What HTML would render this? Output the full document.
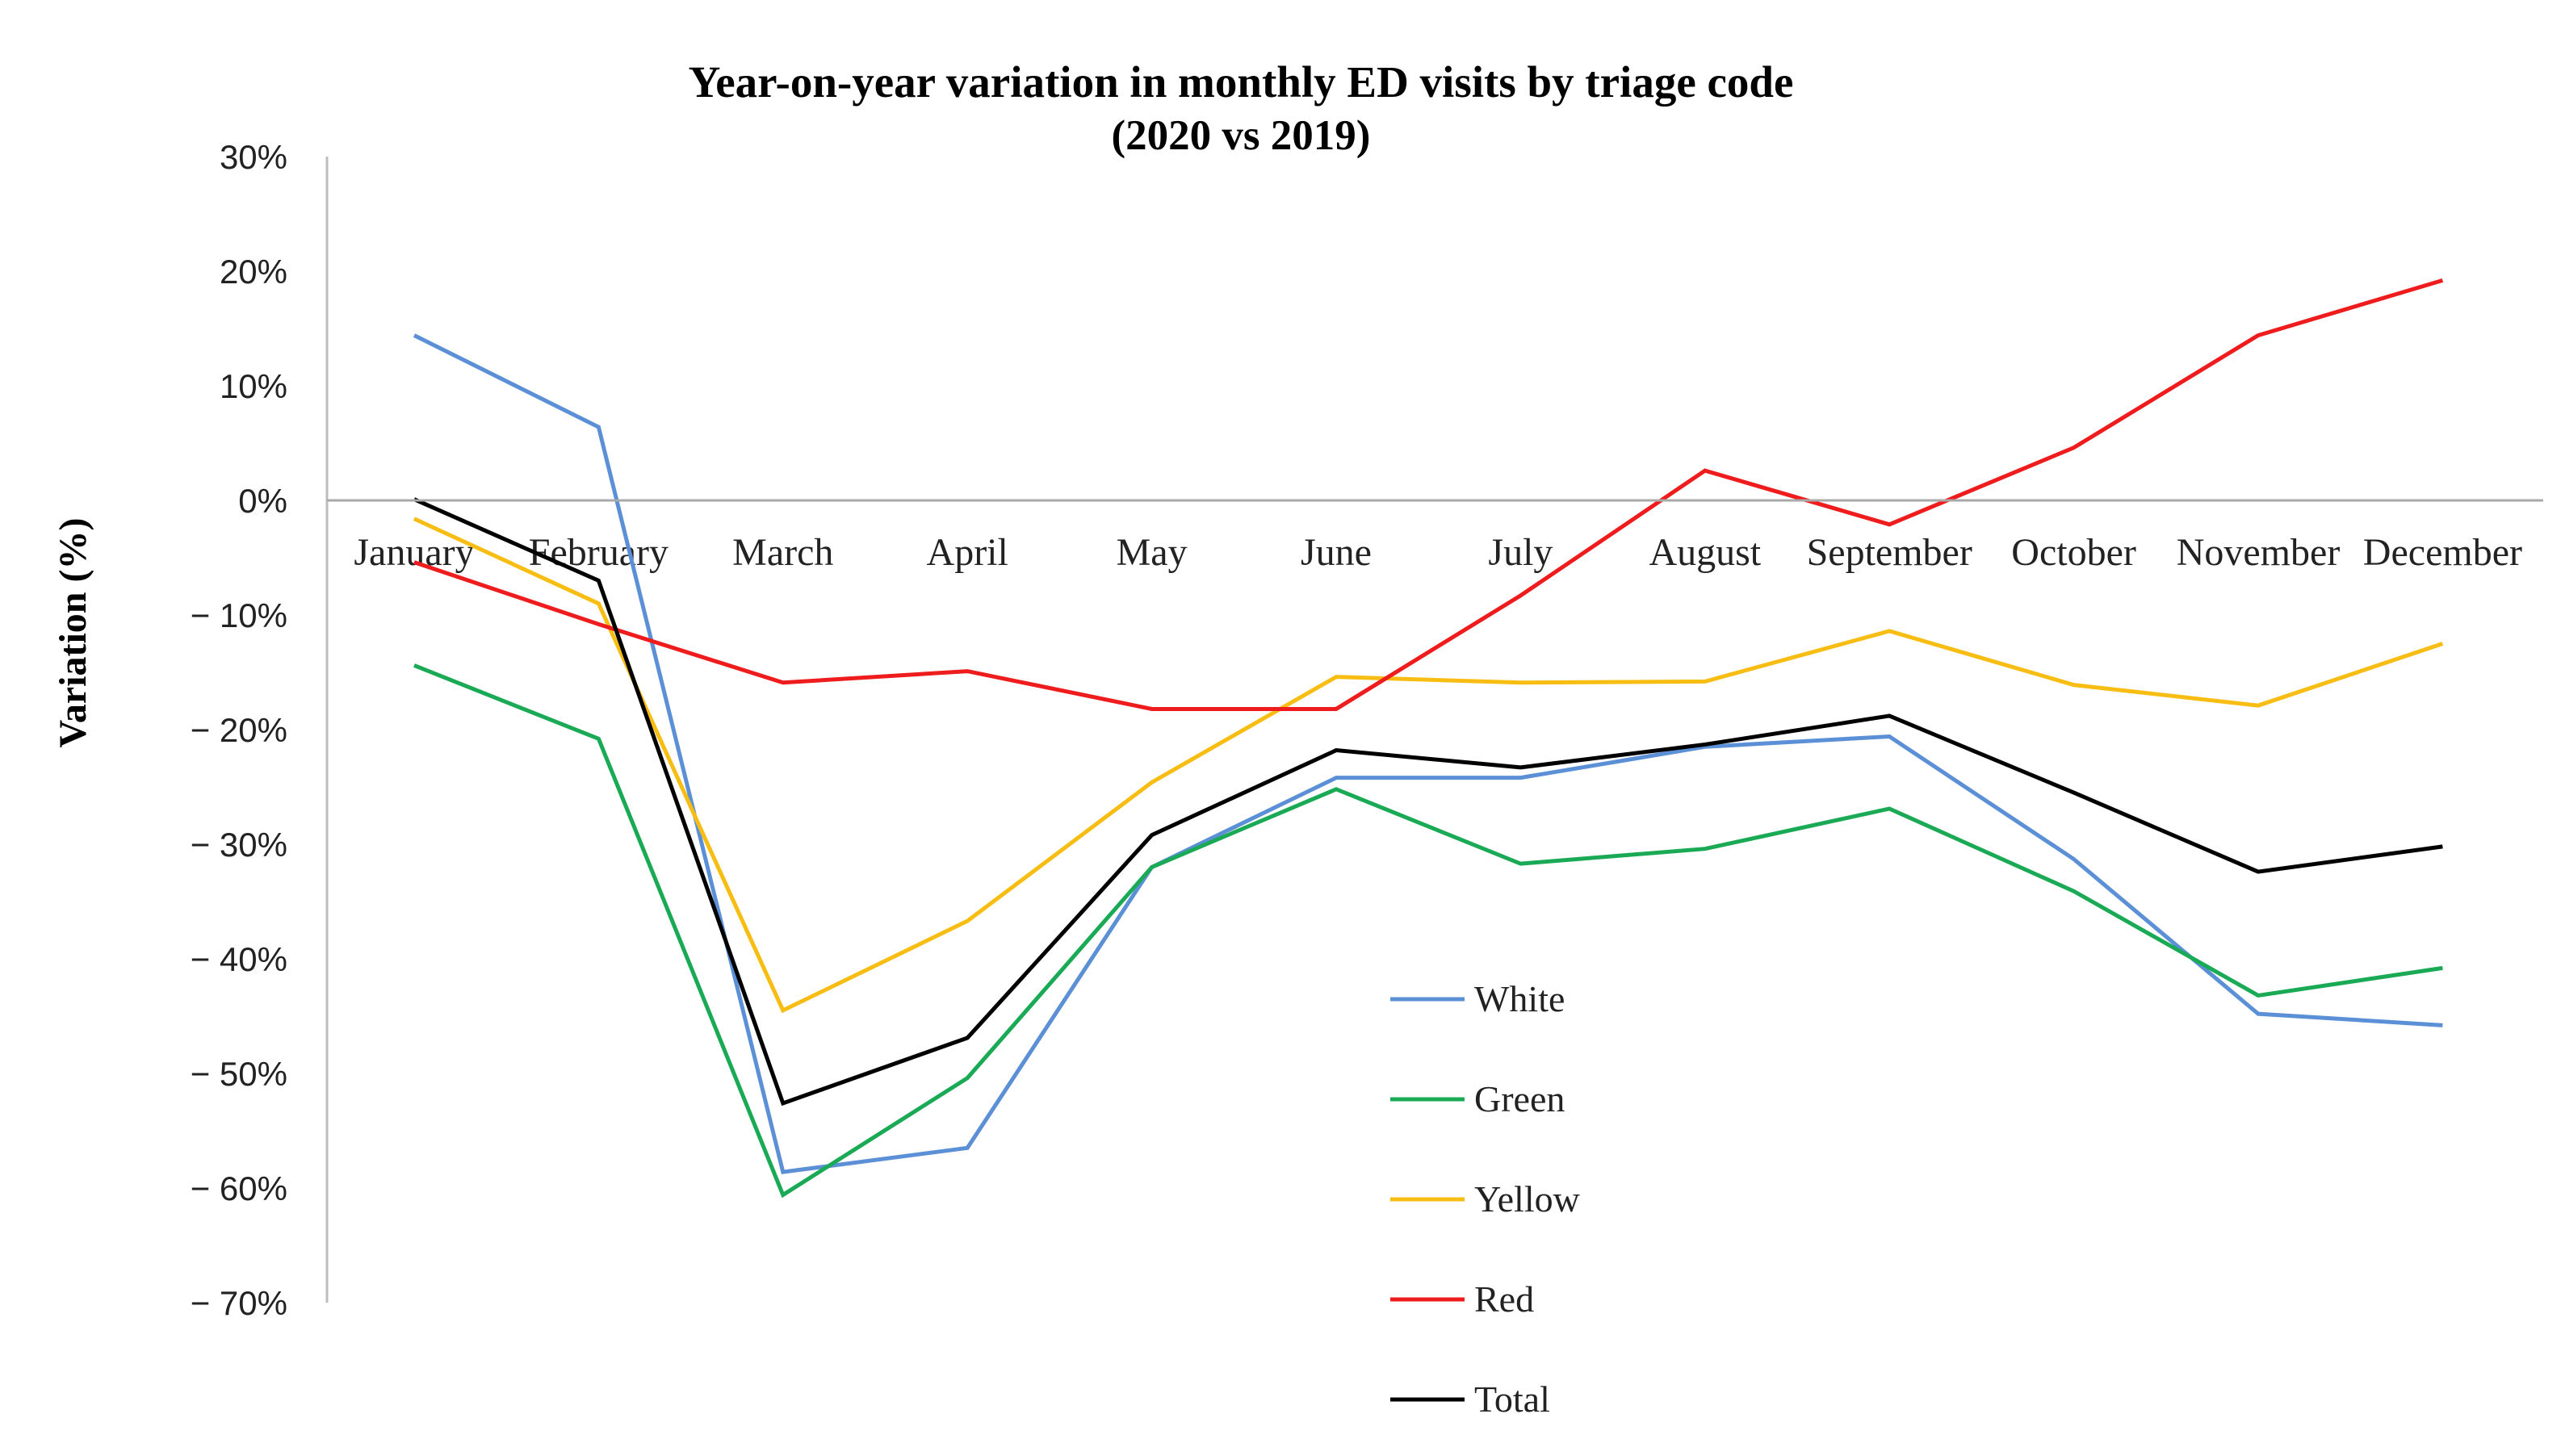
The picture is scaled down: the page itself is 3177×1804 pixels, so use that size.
<!DOCTYPE html>
<html><head><meta charset="utf-8"><style>
html,body{margin:0;padding:0;background:#fff;}
svg{display:block;}
</style></head><body>
<svg id="chart" width="3177" height="1804" viewBox="0 0 3177 1804" xmlns="http://www.w3.org/2000/svg">
<text x="1537" y="120" text-anchor="middle" font-family="Liberation Serif, serif" font-weight="bold" font-size="55">Year-on-year variation in monthly ED visits by triage code</text>
<text x="1537" y="185" text-anchor="middle" font-family="Liberation Serif, serif" font-weight="bold" font-size="53">(2020 vs 2019)</text>
<text transform="translate(106,784) rotate(-90)" text-anchor="middle" font-family="Liberation Serif, serif" font-weight="bold" font-size="48">Variation (%)</text>
<g id="yticks"></g><g id="xlabels"></g><g id="series"></g><g id="legend"></g>
</svg>
<script>
const months = ["January","February","March","April","May","June","July","August","September","October","November","December"];
const yTicks = [30,20,10,0,-10,-20,-30,-40,-50,-60,-70];
const seriesNames = ["White","Green","Yellow","Red","Total"];
const seriesColors = ["#5b8fd6","#1aaa55","#f8bd13","#ee1c1c","#000000"];
const white = [14.4,6.4,-58.6,-56.5,-32,-24.2,-24.2,-21.5,-20.6,-31.3,-44.8,-45.8];
const green = [-14.4,-20.8,-60.6,-50.4,-32,-25.2,-31.7,-30.4,-26.9,-34.1,-43.2,-40.8];
const yellow = [-1.6,-9,-44.5,-36.7,-24.6,-15.4,-15.9,-15.8,-11.4,-16.1,-17.9,-12.5];
const red = [-5.4,-10.8,-15.9,-14.9,-18.2,-18.2,-8.3,2.6,-2.1,4.6,14.4,19.2];
const total = [0.1,-7,-52.6,-46.9,-29.2,-21.8,-23.3,-21.3,-18.8,-25.5,-32.4,-30.2];
const allSeries = [white,green,yellow,red,total];

const NS="http://www.w3.org/2000/svg";
const y = v => 620 - v*14.2;
const x = i => 513 + i*228.4;
function mk(tag, attrs, parent){const e=document.createElementNS(NS,tag);for(const k in attrs)e.setAttribute(k,attrs[k]);parent.appendChild(e);return e;}
const svg=document.getElementById('chart');
let ax=mk('line',{x1:405,y1:y(30),x2:405,y2:y(-70),stroke:'#bdbdbd','stroke-width':3},svg);


let zl=mk('line',{x1:405,y1:y(0),x2:3150,y2:y(0),stroke:'#a9a9a9','stroke-width':3},svg);


const yt=document.getElementById('yticks');
yTicks.forEach(v=>{
  const t=mk('text',{x:356,y:y(v)+15,'text-anchor':'end','font-family':'Liberation Sans, sans-serif','font-size':42,fill:'#222'},yt);
  t.textContent=(v<0?'\u2212 '+Math.abs(v):v)+'%';
  
  
});
const xl=document.getElementById('xlabels');
months.forEach((m,i)=>{
  const t=mk('text',{x:x(i),y:700,'text-anchor':'middle','font-family':'Liberation Serif, serif','font-size':48,fill:'#222'},xl);
  t.textContent=m;
  
  
});
const sg=document.getElementById('series');
allSeries.forEach((s,k)=>{
  const p=mk('polyline',{points:s.map((v,i)=>x(i)+','+y(v)).join(' '),fill:'none',stroke:seriesColors[k],'stroke-width':5,'stroke-linejoin':'miter'},sg);
  
  
});
const lg=document.getElementById('legend');
seriesNames.forEach((n,k)=>{
  const yy=1238+k*124;
  const g=mk('g',{},lg);
  
  
  mk('line',{x1:1722,y1:yy,x2:1814,y2:yy,stroke:seriesColors[k],'stroke-width':5},g);
  const t=mk('text',{x:1826,y:yy+15,'font-family':'Liberation Serif, serif','font-size':46,fill:'#222'},g);
  t.textContent=n;
});
</script>
</body></html>
